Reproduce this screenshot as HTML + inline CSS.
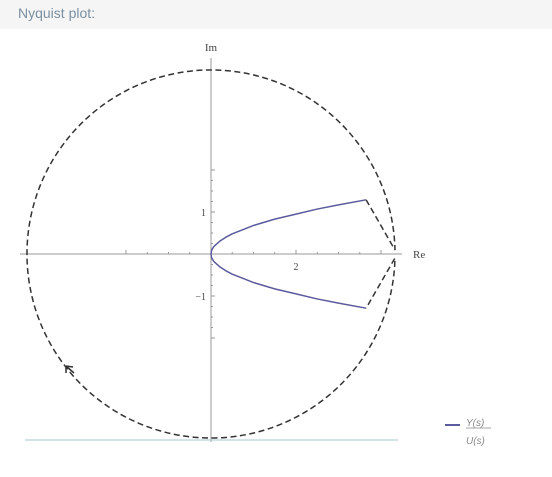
<!DOCTYPE html>
<html><head><meta charset="utf-8"><style>
body{margin:0;width:552px;height:477px;background:#fff;overflow:hidden;font-family:"Liberation Sans",sans-serif}
#hdr{position:absolute;left:0;top:0;width:552px;height:29px;background:#f5f5f5}
#hdr span{position:absolute;left:18px;top:5px;font-size:14px;color:#7a8fa0}
</style></head><body>
<div id="hdr"><span>Nyquist plot:</span></div>
<svg id="c" width="552" height="477" style="position:absolute;left:0;top:0"></svg>
<script>
const reVals=[0,0.01,0.03,0.06,0.1,0.2,0.35,0.5,0.75,1,1.5,2,2.5,3,3.65];
const imVals=[0,0.07,0.12,0.17,0.21,0.30,0.40,0.48,0.58,0.68,0.83,0.95,1.07,1.17,1.29];
const circleR=4.33;
const xTicks=[2];const yTicks=[1,-1];
const ox=211,oy=254,sx=42.5,sy=42;
const X=v=>ox+v*sx,Y=v=>oy-v*sy;
const s=document.getElementById('c');const NS='http://www.w3.org/2000/svg';
function el(t,a){const e=document.createElementNS(NS,t);for(const k in a)e.setAttribute(k,a[k]);s.appendChild(e);return e;}
let e;
e=el('line',{x1:20,y1:oy,x2:402,y2:oy,stroke:'#999','stroke-width':1});

e=el('line',{x1:ox,y1:58,x2:ox,y2:442,stroke:'#999','stroke-width':1});

for(let i=-4;i<=8;i++){if(!i)continue;const x=X(i/2);el('line',{x1:x,y1:oy,x2:x,y2:oy-(i%4?2:4),stroke:'#999'});}
for(let i=-8;i<=8;i++){if(!i)continue;const y=Y(i/4);el('line',{x1:ox,y1:y,x2:ox+(i%4?2:4),y2:y,stroke:'#999'});}
xTicks.forEach(v=>{e=el('text',{x:X(v),y:oy+16,'text-anchor':'middle','font-size':10,fill:'#444','font-family':'Liberation Serif'});e.textContent=v;
});
yTicks.forEach(v=>{e=el('text',{x:ox-5,y:Y(v)+4,'text-anchor':'end','font-size':10,fill:'#444','font-family':'Liberation Serif'});e.textContent=v<0?'−'+(-v):v;
});
e=el('text',{x:ox,y:51,'text-anchor':'middle','font-size':11,fill:'#444','font-family':'Liberation Serif'});e.textContent='Im';

e=el('text',{x:413,y:258,'font-size':11,fill:'#444','font-family':'Liberation Serif'});e.textContent='Re';

const n=reVals.length-1;
const R=circleR*sx;
const a0=Math.asin(4/R);
const arcPath=`M${X(reVals[n])},${Y(imVals[n])} L${ox+R*Math.cos(a0)},${oy-4} A${R},${R} 0 1 0 ${ox+R*Math.cos(a0)},${oy+4} L${X(reVals[n])},${Y(-imVals[n])}`;
e=el('path',{d:arcPath,fill:'none',stroke:'#333','stroke-width':1.5,'stroke-dasharray':'6,3.5'});

let d='';for(let i=n;i>=0;i--)d+=(i==n?'M':'L')+X(reVals[i])+','+Y(imVals[i]);
for(let i=1;i<=n;i++)d+='L'+X(reVals[i])+','+Y(-imVals[i]);
e=el('path',{d:d,fill:'none',stroke:'#5a5a9e','stroke-width':1.5,'stroke-linejoin':'round'});

e=el('path',{d:'M66,366 l0,7 M66,366 l7,1 M66,366 l8,7',fill:'none',stroke:'#333','stroke-width':1.5});

e=el('line',{x1:25,y1:440,x2:398,y2:440,stroke:'#a8c8cc','stroke-width':1});

e=el('line',{x1:445,y1:425,x2:460,y2:425,stroke:'#5a5a9e','stroke-width':2});

e=el('text',{x:466,y:426,'font-size':10,fill:'#888','font-style':'italic'});e.textContent='Y(s)';

el('line',{x1:466,y1:428,x2:491,y2:428,stroke:'#888','stroke-width':0.8});
e=el('text',{x:466,y:444,'font-size':10,fill:'#888','font-style':'italic'});e.textContent='U(s)';

</script>
</body></html>
